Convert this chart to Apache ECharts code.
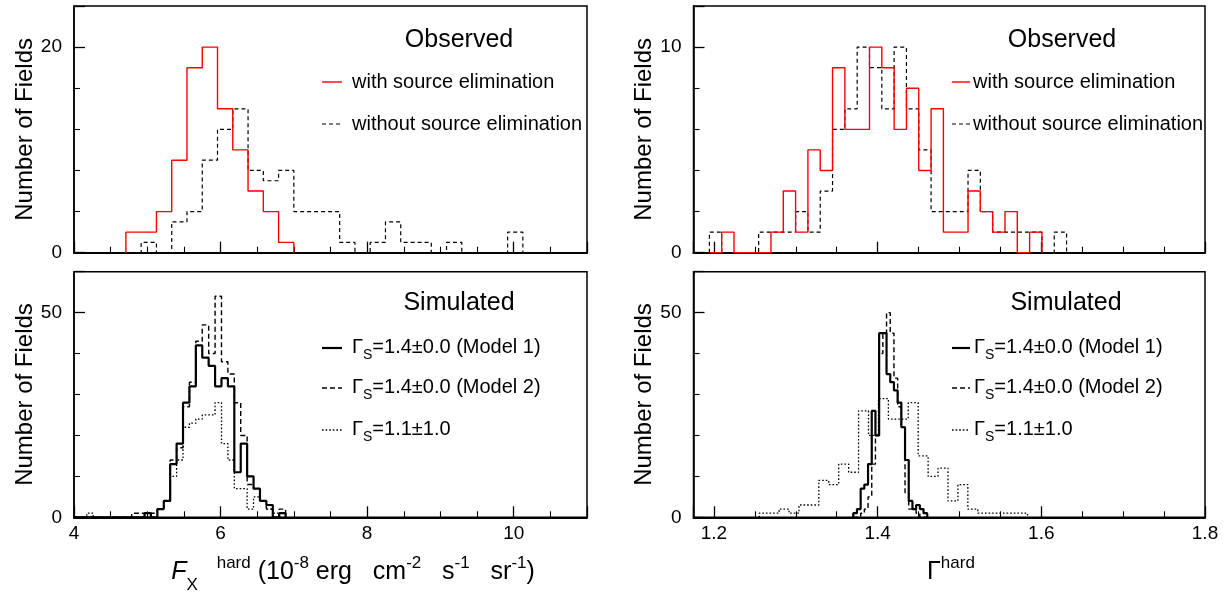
<!DOCTYPE html>
<html><head><meta charset="utf-8">
<script src="https://cdn.jsdelivr.net/npm/echarts@6/dist/echarts.min.js"></script>
<style>html,body{margin:0;padding:0;background:#fff;}#c{width:1231px;height:592px;}</style>
</head><body><div id="c"></div>
<script>
// ---------------- data (histogram bin starts, widths, counts) ----------------
// Observed, hard flux (top-left)
const TL_START = 4.7083, TL_WIDTH = 0.20833;
const TL_WITH = [2, 2, 4, 9, 18, 20, 14, 10, 6, 4, 1];
const TL_WITHOUT = [0, 1, 0, 3, 4, 9, 12, 14, 8, 7, 8, 4, 4, 4, 1, 0, 1, 3, 1, 1, 0, 1, 0, 0, 0, 2];
// Observed, photon index (top-right)
const TR_START = 1.1944, TR_WIDTH = 0.01505;
const TR_WITH = [0, 1, 0, 0, 0, 1, 3, 1, 5, 4, 9, 6, 6, 10, 9, 6, 8, 4, 7, 1, 1, 3, 2, 1, 2, 0, 1];
const TR_WITHOUT = [1, 0, 0, 0, 1, 1, 1, 2, 1, 3, 6, 7, 10, 9, 7, 10, 7, 5, 2, 2, 2, 4, 2, 1, 1, 1, 1, 0, 1];
// Simulated, hard flux (bottom-left)
const BL_START = 4.0, BL_WIDTH = 0.0875;
const BL_M1 = [0,0,0,0,0,0,0,0,0,0,0,1,0,2,4,13,18,28,32,42,39,37,32,34,32,11,18,10,7,4,3,0,1];
const BL_M2 = [0,0,0,0,0,0,0,0,0,1,1,0,1,2,4,14,17,27,33,43,47,40,54,38,35,28,20,8,7,4,2,0,2];
const BL_M3 = [0,0,1,0,0,0,0,0,0,0,0,0,0,2,4,10,14,22,23,24,25,25,28,18,14,7,7,2,5,4,2,1,0];
// Simulated, photon index (bottom-right)
const BR_START = 1.3702, BR_WIDTH = 0.00452;
const BR_M1 = [1, 2, 7, 8, 13, 26, 20, 45, 45, 35, 33, 31, 28, 22, 14, 4, 2, 3, 2, 1];
const BR_M2 = [0, 0, 1, 2, 5, 13, 20, 40, 45, 50, 45, 34, 27, 22, 6, 2, 2, 1, 0, 0];
const BR3_START = 1.2553, BR3_WIDTH = 0.01214;
const BR_M3 = [1, 1, 2, 1, 3, 3, 9, 8, 13, 11, 26, 20, 29, 24, 24, 28, 15, 10, 12, 4, 8, 2, 1, 1, 1, 1, 1];

// text
const Y_TITLE = 'Number of Fields';
const LEG_OBS = ['with source elimination', 'without source elimination'];
const LEG_SIM = ['=1.4\u00b10.0 (Model 1)', '=1.4\u00b10.0 (Model 2)', '=1.1\u00b11.0'];

// ---------------- helpers ----------------
const FONT = '"Liberation Sans", Arial, Helvetica, sans-serif';
function hist(start, width, counts) {
  const pts = [[start, 0]];
  for (let i = 0; i < counts.length; i++) pts.push([start + i * width, counts[i]]);
  pts.push([start + counts.length * width, 0]);
  return pts;
}
const RED = '#ff0000', BLK = '#000000';
const DASH_TOP = [4, 3], DASH_BOT = [5, 3], DOT = [1.6, 2];

const G = {
  tl: { left: 74, top: 6, width: 513, height: 246.7 },
  bl: { left: 74, top: 271.7, width: 513, height: 245.6 },
  tr: { left: 693.5, top: 6, width: 511.5, height: 246.7 },
  br: { left: 693.5, top: 271.7, width: 511.5, height: 245.6 }
};
function grid(g) {
  return Object.assign({ show: true, borderColor: BLK, borderWidth: 1.5, backgroundColor: 'transparent', containLabel: false }, g);
}
function xAxis(gi, min, max, step, showLabels, fmt) {
  return {
    type: 'value', gridIndex: gi, min: min, max: max, minInterval: step, maxInterval: step,
    splitNumber: Math.max(1, Math.round((max - min) / step)),
    axisLine: { show: true, onZero: false, lineStyle: { color: BLK, width: 2 } },
    axisTick: { show: true, inside: true, length: 11, lineStyle: { color: BLK, width: 1.3 } },
    minorTick: { show: true, splitNumber: 4, length: 6, lineStyle: { color: BLK, width: 1.1 } },
    splitLine: { show: false }, minorSplitLine: { show: false },
    axisLabel: { show: showLabels, margin: 7, color: BLK, fontSize: 19, fontFamily: FONT,
      showMinLabel: min === 4, showMaxLabel: min !== 4, formatter: fmt }
  };
}
function yAxis(gi, max, step, minorSplit) {
  return {
    type: 'value', gridIndex: gi, min: 0, max: max, minInterval: step, maxInterval: step,
    splitNumber: 5,
    axisLine: { show: true, onZero: false, lineStyle: { color: BLK, width: 1.5 } },
    axisTick: { show: true, inside: true, length: 11, lineStyle: { color: BLK, width: 1.3 } },
    minorTick: { show: true, splitNumber: minorSplit, length: 6, lineStyle: { color: BLK, width: 1.1 } },
    splitLine: { show: false }, minorSplitLine: { show: false },
    axisLabel: { show: true, margin: 12, color: BLK, fontSize: 19, fontFamily: FONT, showMaxLabel: false, showMinLabel: true,
      formatter: function (v) { return String(Math.round(v)); } },
    name: Y_TITLE, nameLocation: 'middle', nameRotate: 90, nameGap: 37,
    nameTextStyle: { color: BLK, fontSize: 24, fontFamily: FONT }
  };
}
function ser(xi, data, color, width, type, z) {
  return { type: 'line', xAxisIndex: xi, yAxisIndex: xi, step: 'end', symbol: 'none', showSymbol: false,
    data: data, silent: true, z: z, animation: false,
    lineStyle: { color: color, width: width, type: type } };
}

// legend / titles as graphic elements
const TXT = { fill: BLK, fontFamily: FONT };
function label(x, y, text, size) {
  return { type: 'text', x: x, y: y, style: Object.assign({ text: text, fontSize: size, textAlign: 'center', textVerticalAlign: 'middle' }, TXT) };
}
function legLine(x1, x2, y, color, width, dash) {
  return { type: 'line', shape: { x1: x1, y1: y, x2: x2, y2: y }, style: { stroke: color, lineWidth: width, lineDash: dash || null } };
}
function legText(x, y, text) {
  return { type: 'text', x: x, y: y, style: Object.assign({ text: text, fontSize: 20, textAlign: 'left', textVerticalAlign: 'middle' }, TXT) };
}
const GAMMA_RICH = {
  g: { fontSize: 20, lineHeight: 22, verticalAlign: 'top', fontFamily: FONT, color: BLK },
  s: { fontSize: 14, lineHeight: 14, padding: [11, 0, 0, 0], verticalAlign: 'top', fontFamily: FONT, color: BLK },
  t: { fontSize: 20, lineHeight: 22, verticalAlign: 'top', fontFamily: FONT, color: BLK }
};
function gammaText(x, y, rest) {
  return { type: 'text', x: x, y: y - 11, style: { text: '{g|\u0393}{s|S}{t|' + rest + '}', rich: GAMMA_RICH, textAlign: 'left', textVerticalAlign: 'top', fontFamily: FONT } };
}
const TITLE_RICH = {
  m: { fontSize: 25, lineHeight: 30, padding: [8, 0, 0, 0], verticalAlign: 'top', fontFamily: FONT, color: BLK },
  it: { fontSize: 25, lineHeight: 30, padding: [8, 0, 0, 0], verticalAlign: 'top', fontStyle: 'italic', fontFamily: FONT, color: BLK },
  sup: { fontSize: 17, lineHeight: 17, padding: [3, 0, 0, 0], verticalAlign: 'top', fontFamily: FONT, color: BLK },
  sub: { fontSize: 17, lineHeight: 17, padding: [25, 0, 0, 0], verticalAlign: 'top', fontFamily: FONT, color: BLK }
};

const graphics = [
  label(459, 40, 'Observed', 25),
  label(459, 303, 'Simulated', 25),
  label(1062, 40, 'Observed', 25),
  label(1066, 303, 'Simulated', 25),
  legLine(322, 342, 82, RED, 1.4), legText(352, 82, LEG_OBS[0]),
  legLine(322, 342, 124, BLK, 1.2, DASH_TOP), legText(352, 124, LEG_OBS[1]),
  legLine(952, 970, 82, RED, 1.4), legText(973, 82, LEG_OBS[0]),
  legLine(952, 970, 124, BLK, 1.2, DASH_TOP), legText(973, 124, LEG_OBS[1]),
  legLine(322, 342, 348, BLK, 2.2), gammaText(352, 348, LEG_SIM[0]),
  legLine(322, 342, 388, BLK, 1.4, DASH_BOT), gammaText(352, 388, LEG_SIM[1]),
  legLine(322, 342, 430, BLK, 1.3, DOT), gammaText(352, 430, LEG_SIM[2]),
  legLine(952, 970, 348, BLK, 2.2), gammaText(974, 348, LEG_SIM[0]),
  legLine(952, 970, 388, BLK, 1.4, DASH_BOT), gammaText(974, 388, LEG_SIM[1]),
  legLine(952, 970, 430, BLK, 1.3, DOT), gammaText(974, 430, LEG_SIM[2]),
  { type: 'text', x: 353, y: 552, style: { text: '{it|F}{sub|X}{sup|    hard}{m| (10}{sup|-8}{m| erg   cm}{sup|-2}{m|   s}{sup|-1}{m|   sr}{sup|-1}{m|)}', rich: TITLE_RICH, textAlign: 'center', textVerticalAlign: 'top', fontFamily: FONT } },
  { type: 'text', x: 951, y: 552, style: { text: '{m|\u0393}{sup|hard}', rich: TITLE_RICH, textAlign: 'center', textVerticalAlign: 'top', fontFamily: FONT } }
];

const fmt1 = function (v) { return v.toFixed(1); };
const fmt0 = function (v) { return String(Math.round(v)); };

const option = {
  backgroundColor: '#ffffff',
  animation: false,
  textStyle: { fontFamily: FONT },
  grid: [grid(G.tl), grid(G.bl), grid(G.tr), grid(G.br)],
  xAxis: [
    xAxis(0, 4, 11, 2, false, fmt0),
    xAxis(1, 4, 11, 2, true, fmt0),
    xAxis(2, 1.175, 1.8, 0.2, false, fmt1),
    xAxis(3, 1.175, 1.8, 0.2, true, fmt1)
  ],
  yAxis: [
    yAxis(0, 24, 20, 5),
    yAxis(1, 60, 50, 5),
    yAxis(2, 12, 10, 5),
    yAxis(3, 60, 50, 5)
  ],
  series: [
    ser(0, hist(TL_START, TL_WIDTH, TL_WITHOUT), BLK, 1.2, DASH_TOP, 2),
    ser(0, hist(TL_START, TL_WIDTH, TL_WITH), RED, 1.4, 'solid', 3),
    ser(2, hist(TR_START, TR_WIDTH, TR_WITHOUT), BLK, 1.2, DASH_TOP, 2),
    ser(2, hist(TR_START, TR_WIDTH, TR_WITH), RED, 1.4, 'solid', 3),
    ser(1, hist(BL_START, BL_WIDTH, BL_M3), BLK, 1.3, DOT, 2),
    ser(1, hist(BL_START, BL_WIDTH, BL_M2), BLK, 1.4, DASH_BOT, 3),
    ser(1, hist(BL_START, BL_WIDTH, BL_M1), BLK, 2.2, 'solid', 4),
    ser(3, hist(BR3_START, BR3_WIDTH, BR_M3), BLK, 1.3, DOT, 2),
    ser(3, hist(BR_START, BR_WIDTH, BR_M2), BLK, 1.4, DASH_BOT, 3),
    ser(3, hist(BR_START, BR_WIDTH, BR_M1), BLK, 2.2, 'solid', 4)
  ],
  graphic: { elements: graphics }
};
const chart = echarts.init(document.getElementById('c'), null, { renderer: 'canvas' });
chart.setOption(option);
</script></body></html>
